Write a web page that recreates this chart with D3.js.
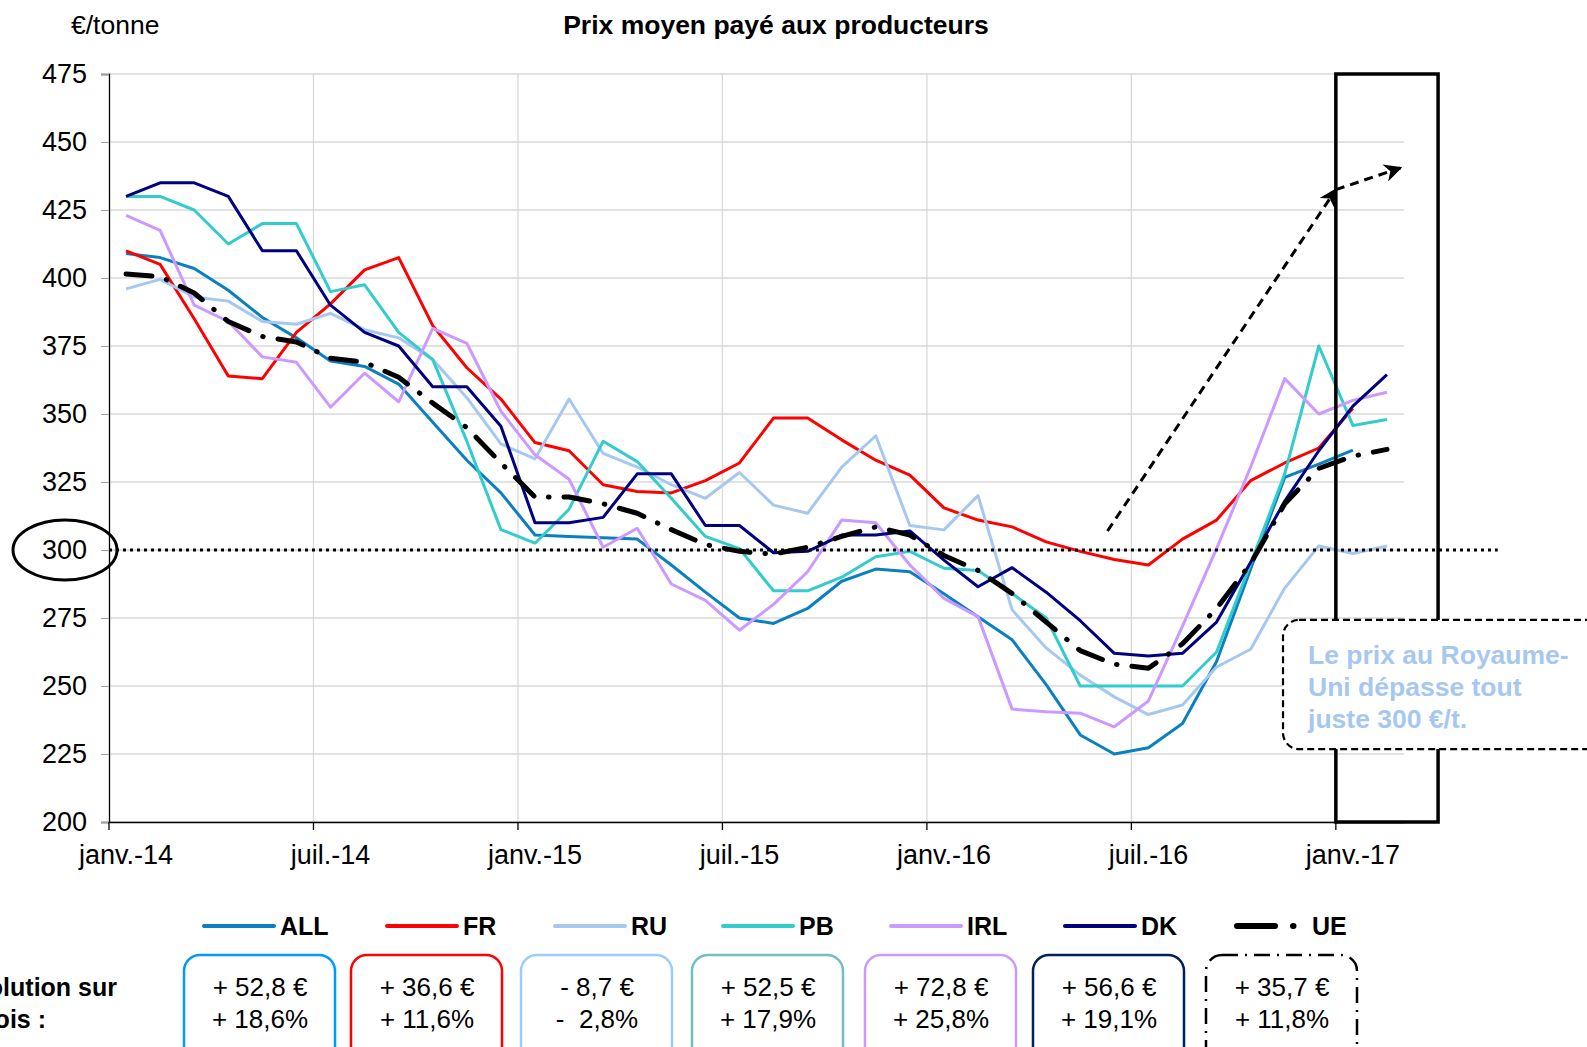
<!DOCTYPE html>
<html>
<head>
<meta charset="utf-8">
<title>Prix moyen payé aux producteurs</title>
<script src="https://cdn.jsdelivr.net/npm/d3@7/dist/d3.min.js"></script>
<style>
    body { margin: 0; background: #fff; }
    text { font-family: "Liberation Sans", Arial, sans-serif; }
    .narrow { font-family: "Liberation Sans Narrow", "Arial Narrow", "Liberation Sans", sans-serif; }
</style>
</head>
<body>
<svg id="lienzo" width="1587" height="1047"></svg>
<script>
// categories : janv.-14 -> févr.-17
const moisNoms = ["janv.", "févr.", "mars", "avr.", "mai", "juin", "juil.", "août", "sept.", "oct.", "nov.", "déc."];
const annees = ["14", "15", "16", "17"];
const tickLabels = ["janv.-14", "juil.-14", "janv.-15", "juil.-15", "janv.-16", "juil.-16", "janv.-17"];
const yTicks = [200, 225, 250, 275, 300, 325, 350, 375, 400, 425, 450, 475];

// prix moyen (€/tonne)
const ALL = [409, 407.5, 403.5, 395.5, 385.5, 378, 369.5, 367.5, 361, 347, 333, 321,
    305.5, 305, 304.5, 304, 294.5, 284.5, 275, 273, 278.5, 288.5, 293, 292,
    283.9, 275.5, 267, 250.5, 232, 225, 227.3, 236.2, 259, 293, 326.7, 331.6, 336.7];
const FR = [410, 405, 385, 364, 363, 380, 390.5, 403, 407.5, 382.5, 367, 355.5,
    339.5, 336.5, 324, 321.5, 321, 325.5, 332, 348.5, 348.5, 340.5, 333, 327.5,
    315.5, 311, 308.5, 303, 299.5, 296.5, 294.5, 304, 311, 325.5, 332, 337.5, 352.1];
const RU = [396, 399.5, 393, 391.5, 384, 383, 387, 381, 378, 370, 356, 339,
    333.5, 355.5, 335.5, 330.5, 324, 319, 328.5, 316.5, 313.5, 330.5, 342, 309,
    307.4, 320, 278, 264, 254, 246, 239.5, 243, 257, 263.5, 286, 301.5, 298.7, 301.5];
const PB = [430, 430, 425, 412.5, 420, 420, 395, 397.5, 380, 370, 340, 307.5,
    302.5, 315, 340, 332.5, 319, 305, 300.5, 285, 285, 290, 297.5, 299.5,
    293.3, 292.5, 284, 275, 250, 250, 250, 250, 262.5, 295, 328, 375, 345.8, 348];
const IRL = [423, 417.5, 390, 384, 371, 369, 352.5, 365, 354.5, 381.5, 376, 351,
    335, 326, 301, 308, 287.5, 281.5, 270.5, 280, 292, 311, 310, 294.5,
    282.2, 275.5, 241.5, 240.5, 240, 235, 244.5, 272, 300.5, 330.5, 363, 350, 355, 358];
const DK = [430, 435, 435, 430, 410, 410, 390, 380, 375, 360, 360, 345.5,
    310, 310, 312, 328, 328, 309, 309, 299, 299.5, 305.5, 305.5, 307,
    296.3, 286.5, 293.5, 284.5, 274, 262, 261, 262, 273.5, 295.5, 318, 336.5, 352.9, 364.5];
const UE = [401.5, 400.5, 394.5, 384, 378.5, 376.5, 370.5, 369, 363.5, 354, 345, 332,
    319.5, 319.5, 317, 313.5, 307.5, 302, 299.5, 298.5, 301, 305, 308.5, 305.5,
    298, 292.5, 284, 273.5, 263, 258, 256.5, 265.5, 278.5, 295, 317, 330, 334.5, 337];

const noms = ["ALL", "FR", "RU", "PB", "IRL", "DK", "UE"];
const couleurs = ["#0a80c2", "#ff0000", "#a6c8f0", "#33cccc", "#cc99ff", "#000080", "#000000"];
const couleursCadre = ["#0099ff", "#ff0000", "#99ccff", "#70bfc4", "#cc99ff", "#002060", "#000000"];
const evolEuro = ["+ 52,8 €", "+ 36,6 €", "- 8,7 €", "+ 52,5 €", "+ 72,8 €", "+ 56,6 €", "+ 35,7 €"];
const evolPct = ["+ 18,6%", "+ 11,6%", "-  2,8%", "+ 17,9%", "+ 25,8%", "+ 19,1%", "+ 11,8%"];

const mois = [];
annees.forEach(a => moisNoms.forEach(m => mois.push(m + "-" + a)));
mois.splice(38);

const series = [ALL, FR, RU, PB, IRL, DK, UE];

const plotLeft = 109, plotRight = 1404, plotTop = 74, plotBottom = 822;

const svg = d3.select("#lienzo");

const x = d3.scaleBand().domain(mois).range([plotLeft, plotRight]).padding(0);
const xIdx = d3.scaleLinear().domain([0, mois.length]).range([plotLeft, plotRight]); // en nombre de mois
const y = d3.scaleLinear().domain([200, 475]).range([plotBottom, plotTop]);
const xMid = i => x(mois[i]) + x.bandwidth() / 2;

// quadrillage
svg.append("g").selectAll("line").data(yTicks).enter().append("line")
    .attr("x1", plotLeft).attr("x2", plotRight)
    .attr("y1", d => y(d)).attr("y2", d => y(d))
    .attr("stroke", "#d9d9d9").attr("stroke-width", 1.3);

const coupures = d3.range(6, mois.length, 6);
svg.append("g").selectAll("line").data(coupures).enter().append("line")
    .attr("x1", d => xIdx(d)).attr("x2", d => xIdx(d))
    .attr("y1", plotTop).attr("y2", plotBottom)
    .attr("stroke", "#d9d9d9").attr("stroke-width", 1.3);

// axe Y
const yAxis = svg.append("g")
    .attr("transform", "translate(" + plotLeft + ",0)")
    .call(d3.axisLeft(y).tickValues(yTicks).tickSize(8).tickPadding(14));
yAxis.select(".domain").attr("stroke", "#000").attr("stroke-width", 1.3);
yAxis.selectAll(".tick line").attr("stroke", "#a0a0a0");
yAxis.selectAll("text").attr("font-size", 27).attr("fill", "#000")
    .style("font-family", "'Liberation Sans', Arial, sans-serif");

// axe X
const xAxis = svg.append("g")
    .attr("transform", "translate(0," + plotBottom + ")")
    .call(d3.axisBottom(x).tickValues(tickLabels).tickSize(0).tickPadding(23));
xAxis.select(".domain").attr("stroke", "#000").attr("stroke-width", 1.3);
xAxis.selectAll("text").attr("font-size", 27).attr("fill", "#000")
    .style("font-family", "'Liberation Sans', Arial, sans-serif");
svg.append("g").selectAll("line").data([0].concat(coupures)).enter().append("line")
    .attr("x1", d => xIdx(d)).attr("x2", d => xIdx(d))
    .attr("y1", plotBottom).attr("y2", plotBottom + 8)
    .attr("stroke", "#000").attr("stroke-width", 1.3);

// courbes
const ligne = d3.line().x((d, i) => xMid(i)).y(d => y(d));
series.forEach((s, k) => {
    const p = svg.append("path").datum(s)
        .attr("d", ligne)
        .attr("fill", "none")
        .attr("stroke", couleurs[k])
        .attr("stroke-width", k === 6 ? 5 : 3)
        .attr("stroke-linejoin", "round");
    if (k === 6) p.attr("stroke-dasharray", "26,15,0.5,15").attr("stroke-linecap", "round");
});

// seuil 300 €/t
svg.append("line")
    .attr("x1", plotLeft).attr("x2", xIdx(40.75))
    .attr("y1", y(300)).attr("y2", y(300))
    .attr("stroke", "#000").attr("stroke-width", 3).attr("stroke-dasharray", "3,4");

svg.append("ellipse")
    .attr("cx", 65).attr("cy", y(300)).attr("rx", 52).attr("ry", 30)
    .attr("fill", "none").attr("stroke", "#000").attr("stroke-width", 3);

// cadre janv./févr. 2017
svg.append("rect")
    .attr("x", xIdx(36)).attr("y", y(475))
    .attr("width", xIdx(39) - xIdx(36)).attr("height", y(200) - y(475))
    .attr("fill", "none").attr("stroke", "#000").attr("stroke-width", 3.5);

// flèches
svg.append("defs").append("marker")
    .attr("id", "fleche").attr("viewBox", "0 0 10 10")
    .attr("refX", 9).attr("refY", 5)
    .attr("markerWidth", 6).attr("markerHeight", 6)
    .attr("orient", "auto-start-reverse")
    .append("path").attr("d", "M0,0 L10,5 L0,10 L3,5 Z").attr("fill", "#000");

const fleches = [[29.3, 307, 36, 432.5], [36, 432.5, 37.9, 440.5]];
svg.append("g").selectAll("line").data(fleches).enter().append("line")
    .attr("x1", d => xIdx(d[0])).attr("y1", d => y(d[1]))
    .attr("x2", d => xIdx(d[2])).attr("y2", d => y(d[3]))
    .attr("stroke", "#000").attr("stroke-width", 3).attr("stroke-dasharray", "9,6")
    .attr("marker-end", "url(#fleche)");

// encadré RU
svg.append("rect")
    .attr("x", xIdx(34.45)).attr("y", y(274.3))
    .attr("width", 340).attr("height", y(226.8) - y(274.3))
    .attr("rx", 16)
    .attr("fill", "#fff").attr("stroke", "#000").attr("stroke-width", 2.2)
    .attr("stroke-dasharray", "7,4");
const noteLignes = ["Le prix au Royaume-", "Uni dépasse tout", "juste 300 €/t."];
svg.append("g").selectAll("text").data(noteLignes).enter().append("text")
    .attr("x", xIdx(34.45) + 25)
    .attr("y", (d, i) => y(274.3) + 44 + i * 32)
    .attr("font-size", 26.5).attr("font-weight", "bold").attr("fill", "#a6c8f0")
    .text(d => d);

// titres
svg.append("text").attr("x", 776).attr("y", 34).attr("text-anchor", "middle")
    .attr("font-size", 26.5).attr("font-weight", "bold").text("Prix moyen payé aux producteurs");
svg.append("text").attr("x", 71).attr("y", 34)
    .attr("font-size", 26.5).text("€/tonne");

// légende
const legPos = [204, 387, 555, 723, 891, 1065, 1226];
const leg = svg.append("g").selectAll("g").data(noms).enter().append("g")
    .attr("transform", (d, i) => "translate(" + legPos[i] + ",926)");
leg.append("line")
    .attr("x1", (d, i) => i === 6 ? 11 : 0).attr("x2", (d, i) => i === 6 ? 80 : 70)
    .attr("stroke", (d, i) => couleurs[i])
    .attr("stroke-width", (d, i) => i === 6 ? 6 : 4)
    .attr("stroke-linecap", "round")
    .attr("stroke-dasharray", (d, i) => i === 6 ? "38,18,0.5,100" : null);
leg.append("text")
    .attr("class", "narrow")
    .attr("x", (d, i) => i === 6 ? 86 : 76).attr("y", 9)
    .attr("font-size", 25).attr("font-weight", "bold")
    .text(d => d);

// évolution sur 12 mois
const evolTitre = ["Évolution sur", "12 mois :"];
svg.append("g").selectAll("text").data(evolTitre).enter().append("text")
    .attr("class", "narrow")
    .attr("x", (d, i) => i === 0 ? 117 : 46).attr("y", (d, i) => 996 + i * 32)
    .attr("text-anchor", "end")
    .attr("font-size", 25).attr("font-weight", "bold")
    .text(d => d);

const cadrePos = [184, 351, 521, 692, 865, 1033, 1206];
const cadres = svg.append("g").selectAll("g").data(noms).enter().append("g")
    .attr("transform", (d, i) => "translate(" + cadrePos[i] + ",955)");
cadres.append("rect")
    .attr("width", 151).attr("height", 110).attr("rx", 16)
    .attr("fill", "none")
    .attr("stroke", (d, i) => couleursCadre[i])
    .attr("stroke-width", 2.5)
    .attr("stroke-dasharray", (d, i) => i === 6 ? "16,7,2,7" : null);
cadres.append("text")
    .attr("class", "narrow")
    .attr("x", 76).attr("y", 41).attr("text-anchor", "middle")
    .attr("font-size", 26).style("white-space", "pre")
    .text((d, i) => evolEuro[i]);
cadres.append("text")
    .attr("class", "narrow")
    .attr("x", 76).attr("y", 73).attr("text-anchor", "middle")
    .attr("font-size", 26).style("white-space", "pre")
    .text((d, i) => evolPct[i]);
</script>
</body>
</html>
